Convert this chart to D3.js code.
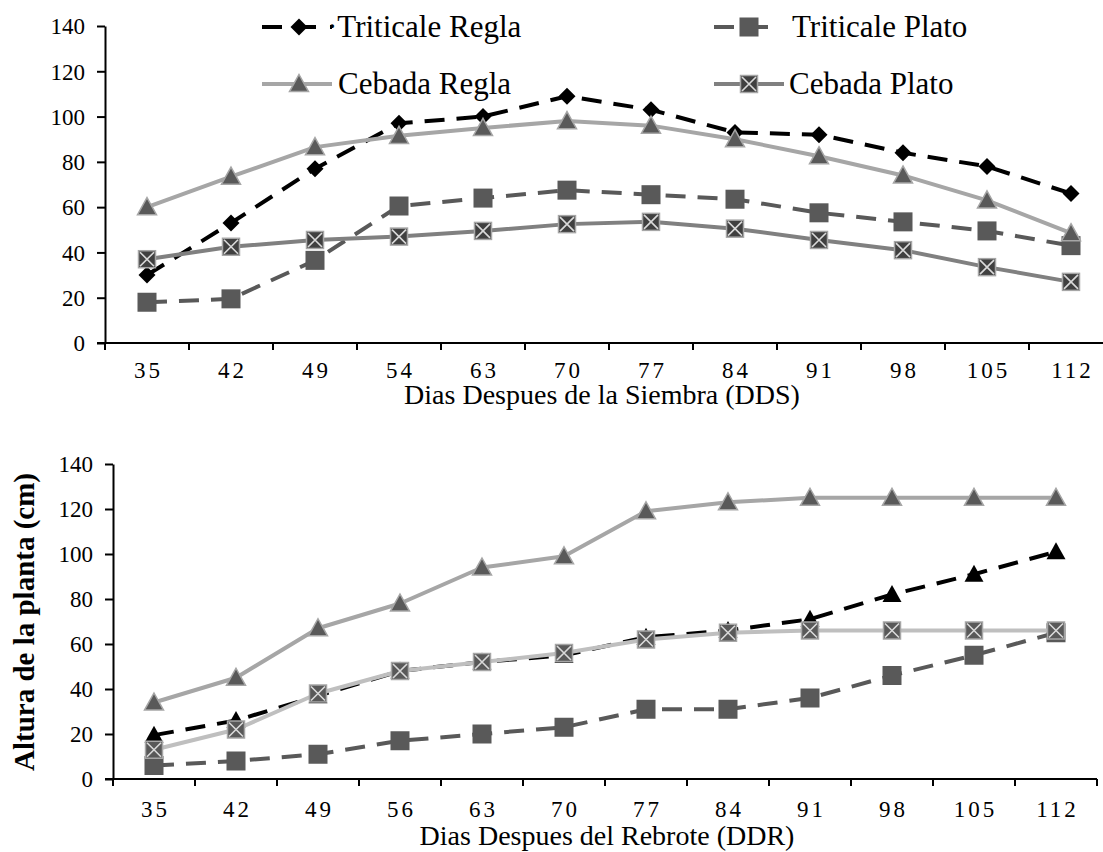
<!DOCTYPE html>
<html>
<head>
<meta charset="utf-8">
<script src="https://cdn.jsdelivr.net/npm/d3@7"></script>
<style>
  body { margin: 0; background: #fff; }
  svg { display: block; }
  text { font-family: "Liberation Serif", "Times New Roman", serif; fill: #000; }
</style>
</head>
<body>
<div id="chart"></div>
<script>
// categories
var diasSiembra = ["35","42","49","54","63","70","77","84","91","98","105","112"];
var diasRebrote = ["35","42","49","56","63","70","77","84","91","98","105","112"];
var yTicks = [0, 20, 40, 60, 80, 100, 120, 140];

// top panel (DDS)
var triRegla1  = [30, 53, 77, 97, 100, 109, 103, 93, 92, 84, 78, 66];
var triPlato1  = [18, 19.5, 36.5, 60.5, 64, 67.5, 65.5, 63.5, 57.5, 53.5, 49.5, 43];
var cebRegla1  = [60, 73.5, 86.5, 91.5, 95, 98, 96, 90, 82.5, 74, 63, 48.5];
var cebPlato1  = [37, 42.5, 45.5, 47, 49.5, 52.5, 53.5, 50.5, 45.5, 41, 33.5, 27];

// bottom panel (DDR)
var triRegla2  = [19.5, 26, 37, 48, 52, 55, 63, 66, 71, 82, 91, 101];
var triPlato2  = [6, 8, 11, 17, 20, 23, 31, 31, 36, 46, 55, 65];
var cebRegla2  = [34, 45, 67, 78, 94, 99, 119, 123, 125, 125, 125, 125];
var cebPlato2  = [13, 22, 38, 48, 52, 56, 62, 65, 66, 66, 66, 66];

var seriesNames = ["Triticale Regla", "Triticale Plato", "Cebada Regla", "Cebada Plato"];

var width = 1103, height = 852;
var DASH = "20,12";

var svg = d3.select('#chart').append('svg').attr('width', width).attr('height', height);

// marker drawing
function drawMarker(g, type, x, y, st){
  if (type == 'diamond'){
    var s = 8.5;
    g.append('path').attr('d', 'M'+x+','+(y-s)+'L'+(x+s)+','+y+'L'+x+','+(y+s)+'L'+(x-s)+','+y+'Z')
      .attr('fill', st.fill);
  } else if (type == 'square'){
    var s = 9.5;
    g.append('rect').attr('x', x-s).attr('y', y-s).attr('width', 2*s).attr('height', 2*s)
      .attr('fill', st.fill).attr('stroke', st.mstroke || 'none').attr('stroke-width', 1);
  } else if (type == 'triangle'){
    var hw = 9.5, hh = 9.5;
    g.append('path').attr('d', 'M'+x+','+(y-hh)+'L'+(x+hw)+','+(y+hh*0.8)+'L'+(x-hw)+','+(y+hh*0.8)+'Z')
      .attr('fill', st.fill).attr('stroke', st.mstroke || 'none').attr('stroke-width', 1.5);
  } else if (type == 'xbox'){
    var s = 8.5;
    g.append('rect').attr('x', x-s).attr('y', y-s).attr('width', 2*s).attr('height', 2*s)
      .attr('fill', st.fill).attr('stroke', '#a6a6a6').attr('stroke-width', 1.5);
    g.append('path').attr('d', 'M'+(x-s+1.5)+','+(y-s+1.5)+'L'+(x+s-1.5)+','+(y+s-1.5)+'M'+(x+s-1.5)+','+(y-s+1.5)+'L'+(x-s+1.5)+','+(y+s-1.5))
      .attr('stroke', '#d9d9d9').attr('stroke-width', 1.6);
  }
}

function panel(cfg){
  var x = d3.scaleBand().domain(cfg.cats).range([cfg.x0, cfg.x1]).padding(0);
  var y = d3.scaleLinear().domain([0, 140]).range([cfg.yb, cfg.yt]);
  var g = svg.append('g');

  // y axis
  var yAxis = d3.axisLeft(y).tickValues(yTicks).tickSize(8).tickSizeOuter(0).tickPadding(12);
  var ya = g.append('g').attr('transform', 'translate(' + cfg.x0 + ',0)').call(yAxis);
  ya.attr('font-family', null);
  ya.select('.domain').attr('stroke', '#000').attr('stroke-width', 2);
  ya.selectAll('.tick line').attr('stroke', '#000').attr('stroke-width', 2);
  ya.selectAll('.tick text').style('font-size', '23px').attr('dy', '0.34em');

  // x axis: line, ticks at category boundaries, labels at centres
  var xa = g.append('g').attr('transform', 'translate(0,' + cfg.yb + ')');
  xa.append('line').attr('x1', cfg.x0 - 8).attr('x2', cfg.x1).attr('stroke', '#000').attr('stroke-width', 2);
  var bounds = d3.range(cfg.cats.length + 1).map(function(i){ return cfg.x0 + i * x.step(); });
  xa.selectAll('line.tk').data(bounds).enter().append('line').attr('class', 'tk')
    .attr('x1', function(d){ return d; }).attr('x2', function(d){ return d; })
    .attr('y1', 0).attr('y2', 7).attr('stroke', '#000').attr('stroke-width', 2);
  xa.selectAll('text.lbl').data(cfg.cats).enter().append('text').attr('class', 'lbl')
    .attr('x', function(d){ return x(d) + x.bandwidth() / 2 + 1.5; })
    .attr('y', cfg.lblY)
    .attr('text-anchor', 'middle')
    .style('font-size', '23px').style('letter-spacing', '3px')
    .text(function(d){ return d; });

  g.append('text').attr('x', cfg.titleX).attr('y', cfg.titleY).attr('text-anchor', 'middle')
    .style('font-size', '28px').text(cfg.title);

  // series
  cfg.series.forEach(function(s){
    var line = d3.line()
      .x(function(d, i){ return x(cfg.cats[i]) + x.bandwidth() / 2; })
      .y(function(d){ return y(d); });
    g.append('path').datum(s.values).attr('d', line)
      .attr('fill', 'none').attr('stroke', s.color).attr('stroke-width', 4)
      .attr('stroke-dasharray', s.dash ? DASH : null)
      .attr('stroke-linejoin', 'round');
    var mg = g.append('g');
    s.values.forEach(function(v, i){
      drawMarker(mg, s.marker, x(cfg.cats[i]) + x.bandwidth() / 2, y(v), s);
    });
  });
  return g;
}

var top = panel({
  cats: diasSiembra, x0: 105, x1: 1113, yb: 343, yt: 26, lblY: 35,
  title: 'Dias Despues de la Siembra (DDS)', titleX: 602, titleY: 404,
  series: [
    {values: triRegla1, color: '#000', dash: true, marker: 'diamond', fill: '#000'},
    {values: triPlato1, color: '#595959', dash: true, marker: 'square', fill: '#595959'},
    {values: cebRegla1, color: '#a6a6a6', dash: false, marker: 'triangle', fill: '#595959', mstroke: '#a6a6a6'},
    {values: cebPlato1, color: '#808080', dash: false, marker: 'xbox', fill: '#404040'}
  ]
});

var bottom = panel({
  cats: diasRebrote, x0: 113, x1: 1097, yb: 779, yt: 464, lblY: 38,
  title: 'Dias Despues del Rebrote (DDR)', titleX: 607, titleY: 845,
  series: [
    {values: triRegla2, color: '#000', dash: true, marker: 'triangle', fill: '#000'},
    {values: triPlato2, color: '#595959', dash: true, marker: 'square', fill: '#595959'},
    {values: cebRegla2, color: '#a6a6a6', dash: false, marker: 'triangle', fill: '#595959', mstroke: '#a6a6a6'},
    {values: cebPlato2, color: '#bfbfbf', dash: false, marker: 'xbox', fill: '#595959'}
  ]
});

// y axis title
svg.append('text')
  .attr('transform', 'translate(34,622) rotate(-90)')
  .attr('text-anchor', 'middle')
  .style('font-size', '29px').style('font-weight', 'bold')
  .text('Altura de la planta (cm)');

// legend (top panel)
var legendItems = [
  {name: seriesNames[0], x: 262, y: 27, len: 70, mx: 299, color: '#000', dash: true, marker: 'diamond', fill: '#000', tx: 327},
  {name: seriesNames[1], x: 714, y: 27, len: 54, mx: 749, color: '#595959', dash: true, marker: 'square', fill: '#595959', tx: 792},
  {name: seriesNames[2], x: 262, y: 84, len: 70, mx: 299, color: '#a6a6a6', dash: false, marker: 'triangle', fill: '#595959', mstroke: '#a6a6a6', tx: 338},
  {name: seriesNames[3], x: 714, y: 84, len: 70, mx: 749, color: '#808080', dash: false, marker: 'xbox', fill: '#404040', tx: 789}
];
var lg = svg.append('g');
legendItems.forEach(function(it){
  lg.append('line').attr('x1', it.x).attr('x2', it.x + it.len).attr('y1', it.y).attr('y2', it.y)
    .attr('stroke', it.color).attr('stroke-width', 4)
    .attr('stroke-dasharray', it.dash ? '20,14' : null);
  drawMarker(lg, it.marker, it.mx, it.y, it);
  lg.append('text').attr('x', it.tx).attr('y', it.y + 10)
    .style('font-size', '31px').text((it.dash && it.marker == 'diamond' ? '\u00b7' : '') + it.name);
});
</script>
</body>
</html>
